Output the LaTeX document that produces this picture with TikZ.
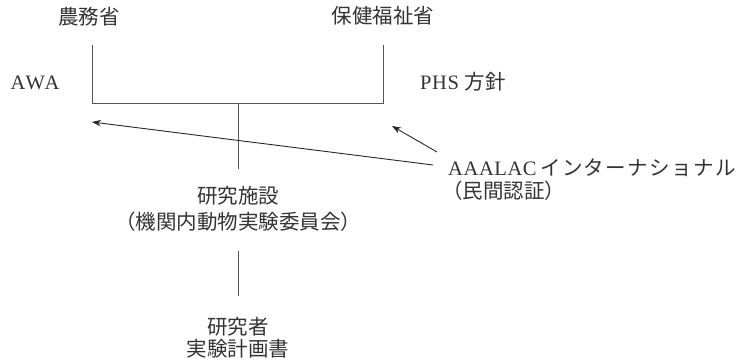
\documentclass[tikz,border=0pt]{standalone}
\usepackage{fontspec}
\setmainfont{Liberation Serif}
\newfontfamily\cjk{Noto Sans CJK JP}
\newfontfamily\cjkw[LetterSpace=7]{Noto Sans CJK JP}
\newfontfamily\lat[LetterSpace=3]{Liberation Serif}
\newfontfamily\latw[LetterSpace=9]{Liberation Serif}
\usetikzlibrary{arrows.meta}
\definecolor{txt}{HTML}{333333}
\definecolor{ln}{HTML}{555555}
\begin{document}
\begin{tikzpicture}[x=1pt,y=-1pt,
  lbl/.style={inner sep=0pt, text=txt, font=\fontsize{20.5}{24}\selectfont},
  wire/.style={draw=ln, line width=1pt},
  arr/.style={draw=black!85, line width=0.9pt, -{Stealth[length=9pt,width=6.5pt]}}]
\useasboundingbox (0,0) rectangle (739,361);
% labels
\node[lbl] (nomu) at (89,17) {\cjk 農務省};
\node[lbl] (hoken) at (383,16) {\cjk 保健福祉省};
\node[lbl] (awa) at (35,83) {\latw AWA};
\node[lbl, anchor=west] (phs) at (420,82) {\lat PHS\ \cjk 方針};
\node[lbl] (inst1) at (238,196) {\cjk 研究施設};
\node[lbl] (inst2) at (238,222) {\cjk （機関内動物実験委員会）};
\node[lbl] (res1) at (238,327) {\cjk 研究者};
\node[lbl] (res2) at (238,349) {\cjk 実験計画書};
\node[lbl, anchor=west] (aaa1) at (448,168) {\lat AAALAC\,\cjkw インターナショナル};
\node[lbl, anchor=west] (aaa2) at (442,191) {\cjk （民間認証）};
% line coordinates
\coordinate (lt) at (92,45);
\coordinate (lb) at (92,103);
\coordinate (rt) at (383,45);
\coordinate (rb) at (383,103);
\coordinate (cb) at (238,103);
\coordinate (ce) at (238,169);
\coordinate (ms) at (238,251);
\coordinate (me) at (238,296);
\coordinate (a1s) at (433,165);
\coordinate (a1e) at (92,122);
\coordinate (a2s) at (437,152);
\coordinate (a2e) at (392,126);
% lines
\draw[wire] (lt) -- (lb) -- (rb) -- (rt);
\draw[wire] (cb) -- (ce);
\draw[wire] (ms) -- (me);
\draw[arr] (a1s) -- (a1e);
\draw[arr] (a2s) -- (a2e);
\end{tikzpicture}
\end{document}
